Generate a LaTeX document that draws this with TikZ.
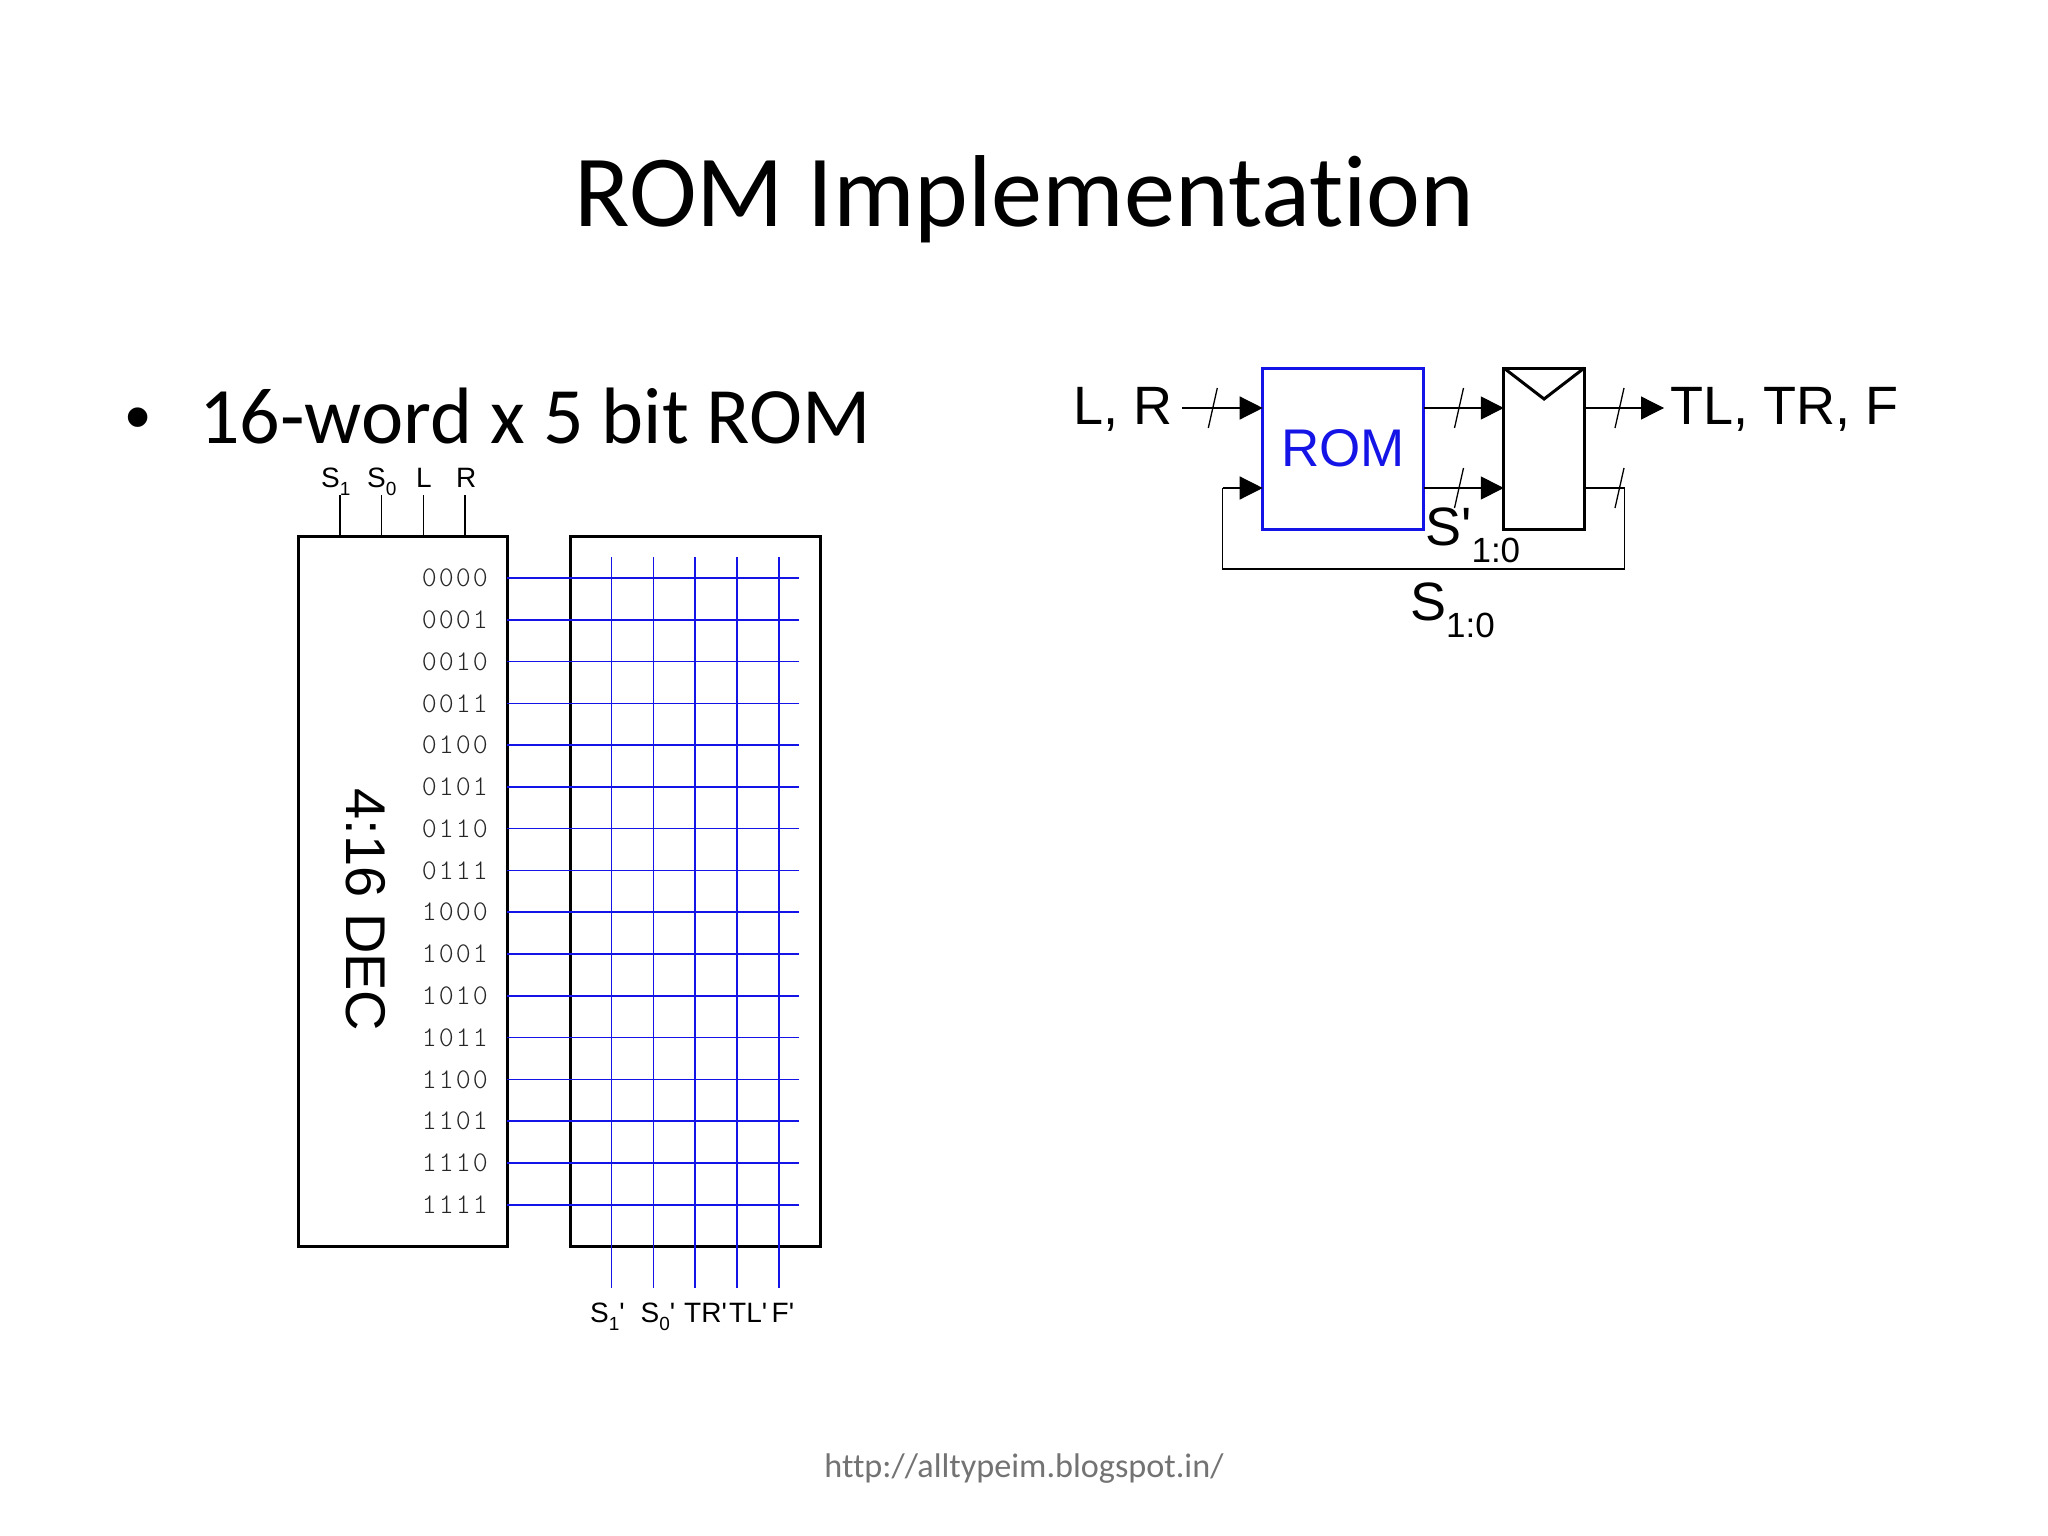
\documentclass[tikz,border=0pt]{standalone}
\usepackage{fontspec}
\setmainfont{Liberation Sans}
\newfontfamily\slidefont[Ligatures=NoCommon]{Carlito}
\newfontfamily\wordfont[LetterSpace=7]{Latin Modern Mono Light}
\usetikzlibrary{calc, arrows.meta}
\newcommand{\lowsub}[2]{\raisebox{-0.32em}{\fontsize{#1}{#1}\selectfont #2}}
\newcommand{\tick}{\textquotesingle}
\definecolor{romblue}{RGB}{20,20,230}
\tikzset{
  box/.style={draw, thick box, rectangle, inner sep=0, outer sep=0},
  thick box/.style={line width=3pt},
  wire/.style={line width=1.3pt},
  gridwire/.style={line width=1.6pt, romblue},
  flow/.style={wire, -{Triangle[length=23pt, width=23pt]}},
  small/.style={font=\fontsize{28}{28}\selectfont, anchor=base west, inner sep=0},
  large/.style={font=\fontsize{54}{54}\selectfont, anchor=base west, inner sep=0},
  word/.style={font=\wordfont\fontsize{28.5}{29}\selectfont, text=black!85, anchor=east, inner sep=0},
}
\newcommand{\busslash}[1]{\draw[wire] ($(#1)+(-4.5,20)$) -- ($(#1)+(4.5,-20)$);}

\begin{document}
\begin{tikzpicture}[x=1pt, y=-1pt]
\useasboundingbox (0,0) rectangle (2048,1536);

% Slide text
\node[anchor=base, inner sep=0, font=\slidefont\fontsize{102.2}{103}\selectfont] (heading) at (1024.5,226) {ROM Implementation};
\node[anchor=base west, inner sep=0, font=\slidefont\fontsize{80}{80}\selectfont] (point) at (199,443.5) {16-word x 5 bit ROM};
\node[anchor=base, inner sep=0, font=\fontsize{72}{72}\selectfont] (bullet) at (138,441) {•};
\node[anchor=base, inner sep=0, text=black!55, font=\slidefont\fontsize{34.2}{35}\selectfont] (source) at (1024,1477) {http://alltypeim.blogspot.in/};

% Decoder and array
\node[box, anchor=north west, minimum width=209pt, minimum height=710pt] (dec) at (298,536) {};
\node[box, anchor=north west, minimum width=250pt, minimum height=710pt] (array) at (570,536) {};
\node[font=\fontsize{56}{56}\selectfont, rotate=-90, inner sep=0] (declabel) at (365.5,910) {4:16 DEC};

% Decoder inputs
\foreach \x/\name/\txt/\lx in {340/sone/S\lowsub{19}{1}/321, 381.7/szero/S\lowsub{19}{0}/367, 423.5/linput/L/416, 465/rinput/R/456} {
  \node[small] (\name) at (\lx,487) {\txt};
  \coordinate (\name top) at (\x,495);
  \draw[wire] (\name top) -- (\name top |- dec.north);
}

% Word lines
\foreach \w [count=\i from 0] in {0000,0001,0010,0011,0100,0101,0110,0111,1000,1001,1010,1011,1100,1101,1110,1111} {
  \node[word] (w\w) at (488,578+41.78*\i) {\w};
  \coordinate (wend\w) at (799,578+41.78*\i);
  \draw[gridwire] (dec.east |- wend\w) -- (wend\w);
}

% Bit lines
\foreach \x/\name/\txt/\lx in {611.5/sonenext/S\lowsub{19}{1}\tick/590, 653.3/szeronext/S\lowsub{19}{0}\tick/640.5, 695/trnext/TR\tick/684, 737/tlnext/TL\tick/729, 778.7/fnext/F\tick/771.5} {
  \coordinate (\name top) at (\x,557);
  \coordinate (\name end) at (\x,1288);
  \draw[gridwire] (\name top) -- (\name end);
  \node[small] (\name) at (\lx,1322) {\txt};
}

% FSM block
\node[box, draw=romblue, anchor=north west, minimum width=161pt, minimum height=161pt, text=romblue, font=\fontsize{53}{53}\selectfont] (rom) at (1262.7,368) {\raisebox{-2.5pt}{ROM}};
\node[box, anchor=north west, minimum width=80.5pt, minimum height=161pt] (state) at (1503.8,368) {};
\draw[thick box] (state.north west) -- ($(state.north)+(0,31)$) -- (state.north east);

\coordinate (inStart) at (1182.4,408);
\coordinate (outEnd) at (1664,408);
\coordinate (fbRight) at (1624.4,488);
\coordinate (fbBelowR) at (1624.4,569);
\coordinate (fbBelowL) at (1222.5,569);
\coordinate (fbLeft) at (1222.5,488);

\draw[flow] (inStart) -- (rom.west |- inStart);
\draw[flow] (rom.east |- inStart) -- (state.west |- inStart);
\draw[flow] (state.east |- outEnd) -- (outEnd);
\draw[flow] (rom.east |- fbLeft) -- (state.west |- fbLeft);
\draw[wire] (state.east |- fbRight) -- (fbRight) -- (fbBelowR) -- (fbBelowL) -- (fbLeft);
\draw[flow] (fbLeft) -- (rom.west |- fbLeft);

\busslash{1212.8,408}
\busslash{1459,408}
\busslash{1459,488}
\busslash{1619.5,408}
\busslash{1619.5,488}

\node[large] (lrlabel) at (1073,424) {L, R};
\node[large] (outlabel) at (1670,424) {TL, TR, F};
\node[large] (nextlabel) at (1425,545) {S\tick\lowsub{35}{1:0}};
\node[large] (statelabel) at (1410,620) {S\lowsub{35}{1:0}};
\end{tikzpicture}
\end{document}
